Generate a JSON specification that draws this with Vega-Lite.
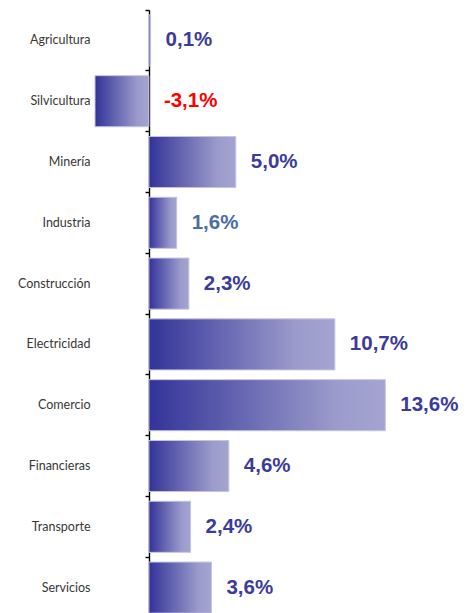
{
  "$schema": "https://vega.github.io/schema/vega-lite/v6.json",
  "autosize": "none",
  "width": 332,
  "height": 608,
  "padding": {"left": 95, "top": 10, "right": 43, "bottom": 0},
  "background": "white",
  "config": {"view": {"stroke": null}},
  "data": {"values": [
    {"cat": "Agricultura", "v": 0.1, "label": "0,1%"},
    {"cat": "Silvicultura", "v": -3.1, "label": "-3,1%"},
    {"cat": "Minería", "v": 5.0, "label": "5,0%"},
    {"cat": "Industria", "v": 1.6, "label": "1,6%"},
    {"cat": "Construcción", "v": 2.3, "label": "2,3%"},
    {"cat": "Electricidad", "v": 10.7, "label": "10,7%"},
    {"cat": "Comercio", "v": 13.6, "label": "13,6%"},
    {"cat": "Financieras", "v": 4.6, "label": "4,6%"},
    {"cat": "Transporte", "v": 2.4, "label": "2,4%"},
    {"cat": "Servicios", "v": 3.6, "label": "3,6%"}
  ]},
  "encoding": {
    "y": {
      "field": "cat", "type": "nominal", "sort": null,
      "scale": {"paddingInner": 0, "paddingOuter": 0},
      "axis": {
        "title": null, "offset": -54, "bandPosition": 0,
        "domainColor": "#000000", "domainWidth": 1.4,
        "tickColor": "#000000", "tickSize": 4, "tickWidth": 1.4,
        "labelPadding": 55, "labelFont": "Lato", "labelFontSize": 12.5,
        "labelColor": "#383838", "labelAlign": "right", "grid": false
      }
    }
  },
  "layer": [
    {
      "mark": {
        "type": "bar",
        "height": {"band": 0.84},
        "stroke": "#c4c4e2", "strokeWidth": 1,
        "color": {
          "gradient": "linear", "x1": 0, "x2": 1, "y1": 0, "y2": 0,
          "stops": [
            {"offset": 0, "color": "#333399"},
            {"offset": 0.8, "color": "#9c9ccc"},
            {"offset": 1, "color": "#a4a4d2"}
          ]
        }
      },
      "encoding": {
        "x": {"field": "v", "type": "quantitative", "scale": {"domain": [-3.1, 16], "nice": false, "zero": false}, "axis": null}
      }
    },
    {
      "transform": [{"calculate": "max(datum.v, 0)", "as": "anchor"}],
      "mark": {"type": "text", "align": "left", "baseline": "middle", "dx": 15, "font": "Liberation Sans", "fontWeight": "bold", "fontSize": 20.5},
      "encoding": {
        "x": {"field": "anchor", "type": "quantitative", "scale": {"domain": [-3.1, 16], "nice": false, "zero": false}},
        "text": {"field": "label"},
        "color": {
          "condition": [
            {"test": "datum.v < 0", "value": "#ff0000"},
            {"test": "datum.cat === 'Industria'", "value": "#4a6fa0"}
          ],
          "value": "#3b3b9b"
        }
      }
    }
  ]
}
